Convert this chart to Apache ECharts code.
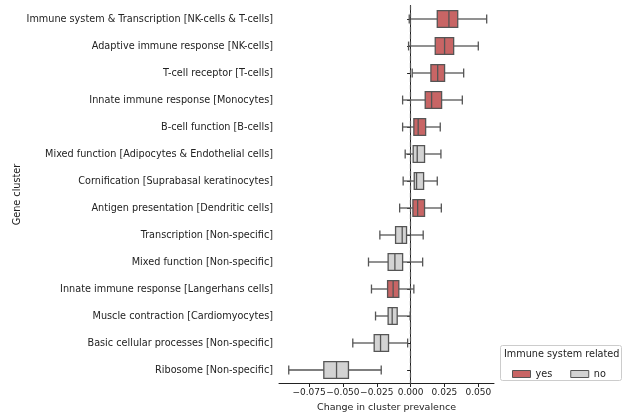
<!DOCTYPE html>
<html>
<head>
<meta charset="utf-8">
<script src="https://cdn.jsdelivr.net/npm/echarts@6/dist/echarts.min.js"></script>
<style>
    html, body { margin: 0; padding: 0; background: #fff; }
    #chart { width: 623px; height: 415px; }
</style>
</head>
<body>
<div id="chart"></div>
<script>
    // gene clusters, top to bottom
    var categories = [
        'Immune system & Transcription [NK-cells & T-cells]',
        'Adaptive immune response [NK-cells]',
        'T-cell receptor [T-cells]',
        'Innate immune response [Monocytes]',
        'B-cell function [B-cells]',
        'Mixed function [Adipocytes & Endothelial cells]',
        'Cornification [Suprabasal keratinocytes]',
        'Antigen presentation [Dendritic cells]',
        'Transcription [Non-specific]',
        'Mixed function [Non-specific]',
        'Innate immune response [Langerhans cells]',
        'Muscle contraction [Cardiomyocytes]',
        'Basic cellular processes [Non-specific]',
        'Ribosome [Non-specific]'
    ];
    var immune = ['yes', 'yes', 'yes', 'yes', 'yes', 'no', 'no', 'yes', 'no', 'no', 'yes', 'no', 'no', 'no'];
    var lowWhisker = [-0.0010, -0.0015, 0.0012, -0.0059, -0.0059, -0.0040, -0.0055, -0.0081, -0.0227, -0.0311, -0.0289, -0.0259, -0.0427, -0.0900];
    var q1 = [0.0197, 0.0182, 0.0150, 0.0108, 0.0024, 0.0019, 0.0027, 0.0017, -0.0111, -0.0166, -0.0170, -0.0166, -0.0269, -0.0641];
    var median = [0.0283, 0.0251, 0.0200, 0.0155, 0.0056, 0.0049, 0.0044, 0.0052, -0.0062, -0.0116, -0.0129, -0.0136, -0.0222, -0.0547];
    var q3 = [0.0348, 0.0318, 0.0251, 0.0229, 0.0111, 0.0103, 0.0096, 0.0103, -0.0030, -0.0059, -0.0087, -0.0099, -0.0163, -0.0459];
    var highWhisker = [0.0562, 0.0500, 0.0392, 0.0382, 0.0219, 0.0224, 0.0197, 0.0227, 0.0093, 0.0089, 0.0024, -0.0003, -0.0022, -0.0217];
    var xTicks = [-0.075, -0.05, -0.025, 0, 0.025, 0.05];

    var colors = { yes: '#c86565', no: '#d3d3d3' };
    var edge = '#555555';
    var fontSize = 9.7;

    function rowsFor(flag) {
        var out = [];
        for (var i = 0; i < categories.length; i++) {
            if (immune[i] === flag) {
                out.push([i, lowWhisker[i], q1[i], median[i], q3[i], highWhisker[i]]);
            }
        }
        return out;
    }

    function renderBox(params, api) {
        var cat = api.value(0);
        var band = api.size([0, 1])[1];
        var h = band * 0.62;
        var cap = band * 0.33;
        var pLow = api.coord([api.value(1), cat]);
        var pQ1 = api.coord([api.value(2), cat]);
        var pMed = api.coord([api.value(3), cat]);
        var pQ3 = api.coord([api.value(4), cat]);
        var pHigh = api.coord([api.value(5), cat]);
        var y = pMed[1];
        var line = { stroke: edge, lineWidth: 1.3 };
        return {
            type: 'group',
            children: [
                { type: 'line', shape: { x1: pLow[0], y1: y, x2: pQ1[0], y2: y }, style: line },
                { type: 'line', shape: { x1: pQ3[0], y1: y, x2: pHigh[0], y2: y }, style: line },
                { type: 'line', shape: { x1: pLow[0], y1: y - cap / 2, x2: pLow[0], y2: y + cap / 2 }, style: line },
                { type: 'line', shape: { x1: pHigh[0], y1: y - cap / 2, x2: pHigh[0], y2: y + cap / 2 }, style: line },
                {
                    type: 'rect',
                    shape: { x: pQ1[0], y: y - h / 2, width: pQ3[0] - pQ1[0], height: h },
                    style: { fill: api.visual('color'), stroke: edge, lineWidth: 1.3 }
                },
                { type: 'line', shape: { x1: pMed[0], y1: y - h / 2, x2: pMed[0], y2: y + h / 2 }, style: line }
            ]
        };
    }

    var chart = echarts.init(document.getElementById('chart'));
    var option = {
        animation: false,
        textStyle: { fontFamily: 'DejaVu Sans' },
        grid: { left: 279, right: 129, top: 5.5, bottom: 31.5, outerBoundsMode: 'none' },
        xAxis: {
            type: 'value',
            min: -0.0972,
            max: 0.0616,
            name: 'Change in cluster prevalence',
            nameLocation: 'middle',
            nameGap: 19,
            nameTextStyle: { color: '#222', fontSize: 9.5 },
            splitLine: { show: false },
            axisLine: { show: true, onZero: false, lineStyle: { color: '#222', width: 1 } },
            axisTick: { show: true, length: 3.5, customValues: xTicks, lineStyle: { color: '#222' } },
            axisLabel: {
                customValues: xTicks,
                hideOverlap: false,
                showMinLabel: true,
                color: '#222',
                fontSize: 9,
                margin: 5,
                formatter: function (v) {
                    var s = Math.abs(v).toFixed(3);
                    return v < 0 ? '\u2212' + s : s;
                }
            }
        },
        yAxis: {
            type: 'category',
            data: categories,
            inverse: true,
            name: 'Gene cluster',
            nameLocation: 'middle',
            nameGap: 256,
            nameTextStyle: { color: '#222', fontSize: fontSize },
            axisLine: { show: true, lineStyle: { color: '#222', width: 1 } },
            axisTick: { show: true, alignWithLabel: true, length: 3.5, lineStyle: { color: '#222' } },
            axisLabel: { color: '#222', fontSize: fontSize, margin: 6 }
        },
        legend: {
            left: 507,
            top: 364,
            itemGap: 18,
            itemWidth: 18,
            itemHeight: 7,
            textStyle: { color: '#222', fontSize: fontSize },
            data: [
                { name: 'yes', icon: 'rect', itemStyle: { color: colors.yes, borderColor: edge, borderWidth: 1 } },
                { name: 'no', icon: 'rect', itemStyle: { color: colors.no, borderColor: edge, borderWidth: 1 } }
            ]
        },
        graphic: [
            {
                type: 'rect',
                shape: { x: 500.5, y: 345.5, width: 121, height: 35, r: 2 },
                style: { fill: '#fff', stroke: '#cccccc', lineWidth: 1 },
                z: -1
            },
            {
                type: 'text',
                x: 504,
                y: 349,
                style: { text: 'Immune system related', fill: '#222', fontSize: fontSize, fontFamily: 'DejaVu Sans' }
            }
        ],
        series: [
            {
                name: 'yes',
                type: 'custom',
                renderItem: renderBox,
                itemStyle: { color: colors.yes },
                encode: { x: [1, 2, 3, 4, 5], y: 0 },
                data: rowsFor('yes'),
                markLine: {
                    silent: true,
                    symbol: 'none',
                    label: { show: false },
                    lineStyle: { color: '#555', type: 'dashed', width: 1.2 },
                    data: [{ xAxis: 0 }]
                }
            },
            {
                name: 'no',
                type: 'custom',
                renderItem: renderBox,
                itemStyle: { color: colors.no },
                encode: { x: [1, 2, 3, 4, 5], y: 0 },
                data: rowsFor('no')
            }
        ]
    };
    chart.setOption(option);
</script>
</body>
</html>
